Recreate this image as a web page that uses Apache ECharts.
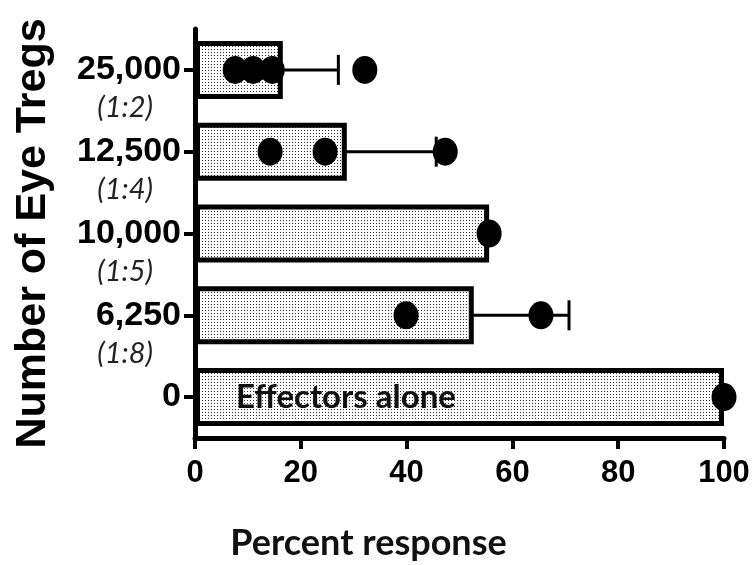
<!DOCTYPE html>
<html>
<head>
<meta charset="utf-8" />
<title></title>
<script src="https://cdn.jsdelivr.net/npm/echarts@6/dist/echarts.min.js"></script>
</head>
<body style="margin:0;background:#fff">
<div id="main" style="width:754px;height:565px;"></div>
<script>
// categories bottom -> top (category y axis draws from bottom)
var groups = ['0', '6,250', '10,000', '12,500', '25,000'];
var ratios = ['', '(1:8)', '(1:5)', '(1:4)', '(1:2)'];
var means = [100, 52.7, 55.6, 28.7, 16.6];
var sds = [0, 18.0, 0, 16.9, 10.5];
var points = [
  [100],
  [39.9, 65.4],
  [55.6],
  [14.2, 24.6, 47.3],
  [7.6, 11.0, 14.6, 32.1]
];
var xTicks = [0, 20, 40, 60, 80, 100];

// dotted fill
var pat = document.createElement('canvas');
pat.width = 3; pat.height = 3;
var pc = pat.getContext('2d');
pc.fillStyle = '#fff';
pc.fillRect(0, 0, 3, 3);
pc.fillStyle = '#333';
pc.fillRect(1, 1, 1, 1);

var barData = means.map(function (m, i) {
  if (i === 0) {
    return {
      value: m,
      label: {
        show: true, position: 'insideLeft', distance: 41,
        formatter: 'Effectors alone',
        fontFamily: 'Lato', fontWeight: 'bold', fontSize: 33, color: '#111'
      }
    };
  }
  return m;
});

var errData = [];
sds.forEach(function (s, i) {
  if (s > 0) errData.push([means[i] - s, means[i] + s, i]);
});

var dots = [];
points.forEach(function (arr, i) {
  arr.forEach(function (v) { dots.push([v, i]); });
});

var myChart = echarts.init(document.getElementById('main'));
var option = {
  animation: false,
  grid: { left: 195, right: 30, top: 29, bottom: 127, containLabel: false, outerBoundsMode: 'none' },
  xAxis: {
    type: 'value', min: 0, max: 100, interval: 20,
    name: 'Percent response', nameLocation: 'middle', nameGap: 87,
    nameTextStyle: { fontFamily: 'Lato', fontWeight: 'bold', fontSize: 36, color: '#111', padding: [0, 182, 0, 0] },
    axisLine: { show: true, lineStyle: { color: '#000', width: 5 } },
    axisTick: { show: true, length: 11, lineStyle: { color: '#000', width: 4 } },
    axisLabel: {
      margin: 20, fontFamily: 'Liberation Sans', fontWeight: 'bold',
      fontSize: 31, color: '#000', hideOverlap: false,
      formatter: function (v) { return xTicks.indexOf(v) >= 0 ? String(v) : ''; }
    },
    splitLine: { show: false }
  },
  yAxis: {
    type: 'category', data: groups,
    name: 'Number of Eye Tregs', nameLocation: 'middle', nameGap: 140, nameRotate: 90,
    nameTextStyle: { fontFamily: 'Liberation Sans', fontWeight: 'bold', fontSize: 43, color: '#000' },
    axisLine: { show: true, lineStyle: { color: '#000', width: 5 } },
    axisTick: { show: true, alignWithLabel: true, length: 11, lineStyle: { color: '#000', width: 4 } },
    axisLabel: {
      margin: 14, interval: 0, hideOverlap: false,
      formatter: function (v, i) {
        if (!ratios[i]) return '{n|' + v + '}';
        return '{e|\u00a0}\n{n|' + v + '}\n{r|' + ratios[i] + '}';
      },
      rich: {
        e: { lineHeight: 36, fontSize: 20 },
        n: { fontFamily: 'Liberation Sans', fontWeight: 'bold', fontSize: 34, lineHeight: 40, color: '#000' },
        r: { fontFamily: 'Lato', fontStyle: 'italic', fontSize: 29, lineHeight: 36, color: '#222', padding: [0, 28, 0, 0] }
      }
    }
  },
  series: [
    {
      type: 'bar', data: barData, barWidth: 58,
      itemStyle: { color: { image: pat, repeat: 'repeat' }, borderColor: '#000', borderWidth: 5 }
    },
    {
      type: 'custom', data: errData,
      encode: { x: [0, 1], y: 2 },
      renderItem: function (params, api) {
        var a = api.coord([api.value(0), api.value(2)]);
        var b = api.coord([api.value(1), api.value(2)]);
        var h = 15;
        var st = { stroke: '#000', lineWidth: 3 };
        return {
          type: 'group',
          children: [
            { type: 'line', shape: { x1: a[0], y1: a[1], x2: b[0], y2: b[1] }, style: st },
            { type: 'line', shape: { x1: a[0], y1: a[1] - h, x2: a[0], y2: a[1] + h }, style: st },
            { type: 'line', shape: { x1: b[0], y1: b[1] - h, x2: b[0], y2: b[1] + h }, style: st }
          ]
        };
      }
    },
    {
      type: 'scatter', data: dots, symbol: 'circle', symbolSize: [25, 28],
      itemStyle: { color: '#000', opacity: 1 }
    }
  ]
};
myChart.setOption(option);
</script>
</body>
</html>
